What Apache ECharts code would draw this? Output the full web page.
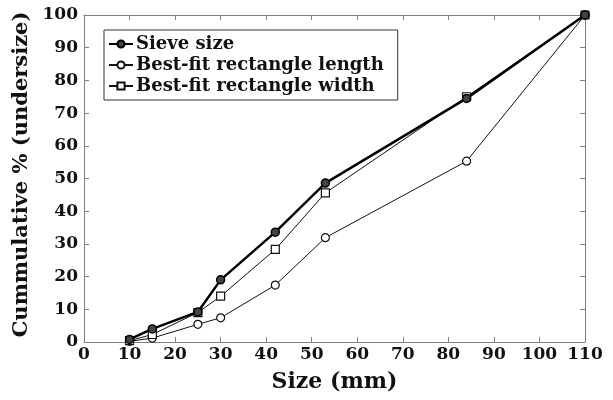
<!DOCTYPE html>
<html><head><meta charset="utf-8">
<script src="https://cdn.jsdelivr.net/npm/echarts@6/dist/echarts.min.js"></script>
<style>html,body{margin:0;padding:0;background:#fff}#c{width:613px;height:400px}</style>
</head><body><div id="c"></div>
<script>
var sizes = [10, 15, 25, 30, 42, 53, 84, 110];
var sieveSize = [0.8, 4.0, 9.2, 19.0, 33.6, 48.6, 74.5, 100];
var rectLength = [0.2, 1.2, 5.4, 7.4, 17.4, 31.9, 55.3, 100];
var rectWidth = [0.4, 2.3, 9.0, 14.0, 28.3, 45.6, 75.0, 100];
var seriesNames = ['Sieve size', 'Best-fit rectangle length', 'Best-fit rectangle width'];
var xTicks = [0, 10, 20, 30, 40, 50, 60, 70, 80, 90, 100, 110];
var yTicks = [0, 10, 20, 30, 40, 50, 60, 70, 80, 90, 100];

function pairs(vals){ return sizes.map(function(x,i){ return [x, vals[i]]; }); }
var font = 'DejaVu Serif';
var chart = echarts.init(document.getElementById('c'));
function axisLine(){ return {show:true, onZero:false, lineStyle:{color:'#808080', width:1}}; }
function tick(){ return {show:true, inside:true, length:5, lineStyle:{color:'#808080'}}; }
chart.setOption({
  animation:false,
  backgroundColor:'#fff',
  grid:{left:84, right:28, top:15, bottom:58},
  legend:{
    left:104, top:30, orient:'vertical', itemGap:3, itemWidth:24, itemHeight:9,
    borderColor:'#333', borderWidth:1, padding:[5,14,5,4],
    backgroundColor:'#fff',
    textStyle:{fontFamily:font, fontWeight:'bold', fontSize:18, color:'#111', padding:[0,0,0,-2]},
    data:seriesNames
  },
  xAxis:[{
    type:'value', min:0, max:110, interval:10,
    name:'Size (mm)', nameLocation:'middle', nameGap:29,
    nameTextStyle:{fontFamily:font, fontWeight:'bold', fontSize:22, color:'#111'},
    axisLine:axisLine(), axisTick:tick(), splitLine:{show:false},
    axisLabel:{fontFamily:font, fontWeight:'bold', fontSize:17, color:'#111', margin:4,
      formatter:function(v){ return xTicks.indexOf(v)>=0 ? String(v) : ''; }}
  },{
    type:'value', min:0, max:110, interval:10, position:'top',
    axisLine:axisLine(), axisTick:tick(), axisLabel:{show:false}, splitLine:{show:false}
  }],
  yAxis:[{
    type:'value', min:0, max:100, interval:10,
    name:'Cummulative % (undersize)', nameLocation:'middle', nameGap:50,
    nameTextStyle:{fontFamily:font, fontWeight:'bold', fontSize:21, color:'#111', padding:[0,0,0,8]},
    axisLine:axisLine(), axisTick:tick(), splitLine:{show:false},
    axisLabel:{fontFamily:font, fontWeight:'bold', fontSize:17, color:'#111', margin:6,
      formatter:function(v){ return yTicks.indexOf(v)>=0 ? String(v) : ''; }}
  },{
    type:'value', min:0, max:100, interval:10, position:'right',
    axisLine:axisLine(), axisTick:tick(), axisLabel:{show:false}, splitLine:{show:false}
  }],
  series:[
    {name:seriesNames[0], type:'line', data:pairs(sieveSize), symbol:'circle', symbolSize:8,
     lineStyle:{color:'#000', width:2.5}, itemStyle:{color:'#444', borderColor:'#000', borderWidth:1.5}, z:5},
    {name:seriesNames[1], type:'line', data:pairs(rectLength), symbol:'circle', symbolSize:8,
     lineStyle:{color:'#111', width:1}, itemStyle:{color:'#fff', borderColor:'#111', borderWidth:1.2}, z:3},
    {name:seriesNames[2], type:'line', data:pairs(rectWidth), symbol:'rect', symbolSize:8,
     lineStyle:{color:'#111', width:1}, itemStyle:{color:'#fff', borderColor:'#111', borderWidth:1.2}, z:4}
  ]
});
</script></body></html>
